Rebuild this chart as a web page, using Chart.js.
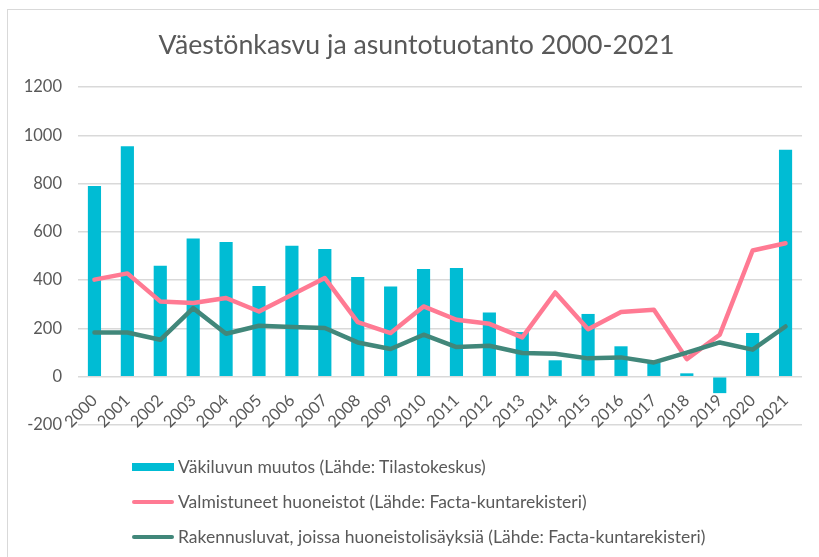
<!DOCTYPE html>
<html>
<head>
<meta charset="utf-8">
<script src="https://cdn.jsdelivr.net/npm/chart.js@4/dist/chart.umd.min.js"></script>
<style>
  html, body { margin: 0; padding: 0; background: #fff; }
  #wrap { position: relative; width: 819px; height: 557px; overflow: hidden; }
  #frame { position: absolute; left: 7px; top: 9px; width: 900px; height: 700px; border: 1px solid #d9d9d9; }
  #chart { position: absolute; left: 0; top: 0; }
  #title { position: absolute; left: 0; top: 28px; width: 833px; text-align: center; line-height: 32px;
           font-family: Lato, sans-serif; font-size: 26.7px; color: #595959; white-space: nowrap; }
  #legend { position: absolute; left: 0; top: 0; font-family: Lato, sans-serif; font-size: 17.5px; color: #595959; }
  #legend .row { position: absolute; left: 132px; height: 20px; line-height: 20px; display: flex; align-items: center; white-space: nowrap; }
  #legend .sw { width: 42px; margin-right: 4px; }
</style>
</head>
<body>
<div id="wrap">
  <div id="frame"></div>
  <canvas id="chart" width="819" height="557"></canvas>
  <div id="title">Väestönkasvu ja asuntotuotanto 2000-2021</div>
  <div id="legend"></div>
</div>
<script>
// Vuodet
const years = ['2000','2001','2002','2003','2004','2005','2006','2007','2008','2009','2010',
  '2011','2012','2013','2014','2015','2016','2017','2018','2019','2020','2021'];

// Väkiluvun muutos
const populationChange = [790, 955, 460, 573, 558, 376, 542, 529, 413, 374, 446,
  450, 266, 185, 68, 260, 126, 60, 14, -68, 181, 940];

// Valmistuneet huoneistot
const completedDwellings = [402, 428, 312, 305, 326, 270, 340, 409, 226, 181, 291,
  236, 219, 163, 349, 197, 268, 277, 73, 174, 523, 553];

// Rakennusluvat, joissa huoneistolisäyksiä
const buildingPermits = [183, 183, 153, 284, 178, 211, 206, 202, 142, 115, 174,
  123, 128, 98, 95, 76, 80, 59, 100, 142, 112, 208];

const yTicks = [-200, 0, 200, 400, 600, 800, 1000, 1200];

const seriesNames = [
  'Väkiluvun muutos (Lähde: Tilastokeskus)',
  'Valmistuneet huoneistot (Lähde: Facta-kuntarekisteri)',
  'Rakennusluvat, joissa huoneistolisäyksiä (Lähde: Facta-kuntarekisteri)'
];
const seriesColors = ['#00bcd4', '#ff7a93', '#41877a'];

const textColor = '#595959';
const gridColor = '#d9d9d9';

document.addEventListener('DOMContentLoaded', function() {
    var ctx = document.getElementById('chart').getContext('2d');

    new Chart(ctx, {
        type: 'bar',
        data: {
            labels: years,
            datasets: [{
                label: seriesNames[0],
                data: populationChange,
                backgroundColor: seriesColors[0],
                barPercentage: 0.4,
                categoryPercentage: 1,
                order: 3
            }, {
                type: 'line',
                label: seriesNames[1],
                data: completedDwellings,
                borderColor: seriesColors[1],
                borderWidth: 4.5,
                pointRadius: 0,
                tension: 0,
                borderJoinStyle: 'round',
                borderCapStyle: 'round',
                order: 2
            }, {
                type: 'line',
                label: seriesNames[2],
                data: buildingPermits,
                borderColor: seriesColors[2],
                borderWidth: 4.5,
                pointRadius: 0,
                tension: 0,
                borderJoinStyle: 'round',
                borderCapStyle: 'round',
                order: 1
            }]
        },
        options: {
            responsive: false,
            animation: false,
            layout: {
                padding: { left: 0, right: 17, top: 87, bottom: 132 }
            },
            plugins: {
                legend: { display: false },
                tooltip: { enabled: false },
                title: { display: false }
            },
            scales: {
                x: {
                    position: { y: 0 },
                    grid: { display: false },
                    border: { display: false },
                    ticks: {
                        color: textColor,
                        font: { family: 'Lato', size: 16.5 },
                        minRotation: 45,
                        maxRotation: 45,
                        padding: 6,
                        autoSkip: false
                    }
                },
                y: {
                    min: -200,
                    max: 1200,
                    afterBuildTicks: function(scale) {
                        scale.ticks = yTicks.map(v => ({ value: v }));
                    },
                    afterFit: function(scale) {
                        scale.width = 78;
                    },
                    grid: { color: gridColor, lineWidth: 1.5, drawTicks: false },
                    border: { display: false },
                    ticks: {
                        color: textColor,
                        font: { family: 'Lato', size: 16.5 },
                        padding: 16,
                        callback: function(value) { return String(value); }
                    }
                }
            }
        }
    });

    // Selite pystysuunnassa, kuten alkuperäisessä
    const legend = document.getElementById('legend');
    const rowCenters = [467, 502, 537];
    seriesNames.forEach((name, i) => {
        const row = document.createElement('div');
        row.className = 'row';
        row.style.top = (rowCenters[i] - 10) + 'px';
        const sw = document.createElement('span');
        sw.className = 'sw';
        if (i === 0) {
            sw.style.height = '8px';
            sw.style.background = seriesColors[i];
        } else {
            sw.style.height = '4px';
            sw.style.borderRadius = '2px';
            sw.style.background = seriesColors[i];
        }
        const label = document.createElement('span');
        label.textContent = name;
        row.appendChild(sw);
        row.appendChild(label);
        legend.appendChild(row);
    });
});
</script>
</body>
</html>
